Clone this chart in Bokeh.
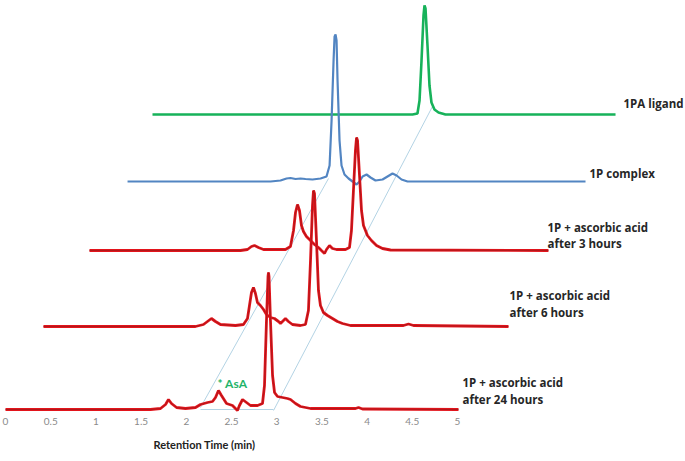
from bokeh.plotting import figure
from bokeh.models import Range1d, FixedTicker, NumeralTickFormatter, Title, ColumnDataSource
from bokeh.core.properties import value
from bokeh.embed import file_html
from bokeh.resources import INLINE

# ---------------- data (retention time in each run's own frame, min ; signal, a.u.) ----------------
lig_t = [0, 2.876, 2.931, 2.954, 2.976, 2.998, 3.009, 3.020, 3.042, 3.064, 3.086, 3.119, 3.164, 3.241, 5.122]
lig_s = [0, 0, 1, 14, 54, 99, 109, 106, 69, 29, 12, 5, 2, 0, 0]

cpx_t = [0, 1.582, 1.692, 1.759, 1.803, 1.858, 1.914, 1.969, 2.046, 2.135, 2.201, 2.235, 2.257, 2.279,
         2.290, 2.301, 2.312, 2.323, 2.345, 2.367, 2.400, 2.445, 2.489, 2.533, 2.566, 2.600, 2.644,
         2.688, 2.743, 2.821, 2.876, 2.931, 2.976, 3.031, 3.097, 5.066]
cpx_s = [0, 0, 1, 3, 3.5, 2.5, 3, 2.5, 2, 3, 5, 16, 61, 121,
         145, 147, 141, 101, 41, 16, 7, 3, 0, -3, 0, 5, 7,
         4, 1, 2, 5, 8, 6, 2, 0, 0]

h3_t = [0, 1.670, 1.748, 1.792, 1.825, 1.869, 1.925, 2.168, 2.223, 2.257, 2.279, 2.301, 2.323, 2.345,
        2.367, 2.400, 2.445, 2.489, 2.533, 2.566, 2.600, 2.622, 2.655, 2.688, 2.732, 2.832, 2.876,
        2.898, 2.920, 2.942, 2.954, 2.965, 2.987, 3.009, 3.031, 3.075, 3.119, 3.175, 3.241, 3.330, 5.077]
h3_s = [0, 0, 1, 4, 5, 3, 1, 1, 4, 20, 38, 46, 40, 25,
        19, 14, 10, 6, 3, 0, -3, 1, 5, 2, 1, 1, 3,
        20, 60, 100, 113, 110, 75, 40, 25, 15, 10, 5, 2, 0.5, 0]

h6_t = [0, 1.681, 1.770, 1.814, 1.858, 1.903, 1.958, 2.124, 2.212, 2.257, 2.279, 2.301, 2.323, 2.345,
        2.367, 2.400, 2.434, 2.467, 2.511, 2.555, 2.600, 2.622, 2.644, 2.677, 2.710, 2.754, 2.843,
        2.898, 2.931, 2.954, 2.976, 2.987, 2.998, 3.020, 3.042, 3.064, 3.097, 3.142, 3.197, 3.252,
        3.308, 3.396, 3.982, 4.038, 4.093, 5.144]
h6_s = [0, 0, 2, 5, 8, 5, 2, 1, 2, 8, 21, 34, 39, 33,
        24, 21, 17, 12, 9, 8, 5, 3, 5, 8, 5, 2, 1,
        2, 16, 66, 121, 136, 133, 86, 36, 21, 14, 11, 8, 5,
        3, 1, 1, 2.5, 1, 0]

h24_t = [0, 1.604, 1.715, 1.770, 1.803, 1.836, 1.892, 1.991, 2.102, 2.157, 2.235, 2.290, 2.323, 2.356,
         2.389, 2.445, 2.511, 2.544, 2.566, 2.588, 2.622, 2.666, 2.710, 2.788, 2.843, 2.865, 2.887,
         2.904, 2.909, 2.915, 2.931, 2.954, 2.976, 3.009, 3.064, 3.119, 3.153, 3.208, 3.263, 3.374,
         3.872, 3.905, 3.949, 5.011]
h24_s = [0, 0, 1, 5, 10, 6, 2, 1, 2, 5, 7, 8, 12, 19,
         14, 6, 4, 1, -1, 4, 10, 7, 4, 4, 6, 24, 89,
         133, 137, 133, 89, 34, 17, 13, 12, 11, 10, 6, 3, 1,
         1, 2, 0.5, 0]

# stacking offsets of each run (time shift, min ; signal shift, a.u.)
run_names = ["1PA ligand", "1P complex", "after 3 hours", "after 6 hours", "after 24 hours"]
run_shift_t = [1.626, 1.350, 0.929, 0.420, 0.0]
run_shift_s = [295, 228, 159, 83, 0]

# guide lines joining corresponding peaks
guide_t = [[4.723, 2.965], [3.573, 2.157], [2.157, 2.965]]
guide_s = [[303, -1], [231, 2], [0, 0]]

x_ticks = [0, 0.5, 1, 1.5, 2, 2.5, 3, 3.5, 4, 4.5, 5]

label_text = ["1PA ligand", "1P complex", "1P + ascorbic acid", "after 3 hours",
              "1P + ascorbic acid", "after 6 hours", "1P + ascorbic acid", "after 24 hours"]

# ---------------- figure ----------------
p = figure(width=685, height=461, output_backend="svg", toolbar_location=None,
           x_range=Range1d(-0.0553, 7.522), y_range=Range1d(-3, 409),
           y_axis_location=None,
           min_border_left=0, min_border_right=0, min_border_top=0, min_border_bottom=49)
p.grid.visible = False
p.outline_line_color = None
p.background_fill_color = "white"
p.border_fill_color = "white"

ax = p.xaxis[0]
ax.ticker = FixedTicker(ticks=x_ticks)
ax.formatter = NumeralTickFormatter(format="0.[0]")
ax.axis_line_color = None
ax.major_tick_line_color = None
ax.minor_tick_line_color = None
ax.major_tick_out = 0
ax.major_tick_in = 0
ax.major_label_standoff = 5
ax.major_label_text_font = "Lato"
ax.major_label_text_font_size = "10px"
ax.major_label_text_color = "#8a8a8a"

# x-axis title, placed under the 2-min region as in the original
p.add_layout(Title(text="Retention Time (min)", align="left", offset=153, standoff=16,
                   text_font="Lato", text_font_style="bold", text_font_size="11px",
                   text_color="#222222"), "below")

# guide lines
p.multi_line(xs=guide_t, ys=guide_s, line_color="#b3d3e4", line_width=1)


def shifted(ts, ss, k):
    return [t + run_shift_t[k] for t in ts], [s + run_shift_s[k] for s in ss]


# ligand (green)
x, y = shifted(lig_t, lig_s, 0)
p.line(x, y, line_color="#17b25a", line_width=2.6)
# complex (blue)
x, y = shifted(cpx_t, cpx_s, 1)
p.line(x, y, line_color="#5285c2", line_width=2.2)
# ascorbic-acid runs (red)
for k, (ts, ss) in zip([2, 3, 4], [(h3_t, h3_s), (h6_t, h6_s), (h24_t, h24_s)]):
    x, y = shifted(ts, ss, k)
    p.line(x, y, line_color="#e3141c", line_width=2.8)
    p.line(x, y, line_color="#9a1a1a", line_width=0.7)

# trace labels
lab_x = [6.836, 6.460, 5.996, 5.996, 5.575, 5.575, 5.055, 5.055]
lab_y = [306, 236, 182, 166, 114, 97, 27, 10]
src = ColumnDataSource(dict(x=lab_x, y=lab_y, text=label_text))
p.text(x="x", y="y", text="text", source=src, text_baseline="middle",
       text_font=value("Open Sans"), text_font_style="bold", text_font_size="11.5px",
       text_color="#262626")

# AsA marker
p.text(x=[2.345], y=[26], text=["* AsA"], text_baseline="middle", text_font=value("Lato"),
       text_font_style="bold", text_font_size="12px", text_color="#1fb46a")

open("out.html", "w").write(file_html(p, INLINE))
